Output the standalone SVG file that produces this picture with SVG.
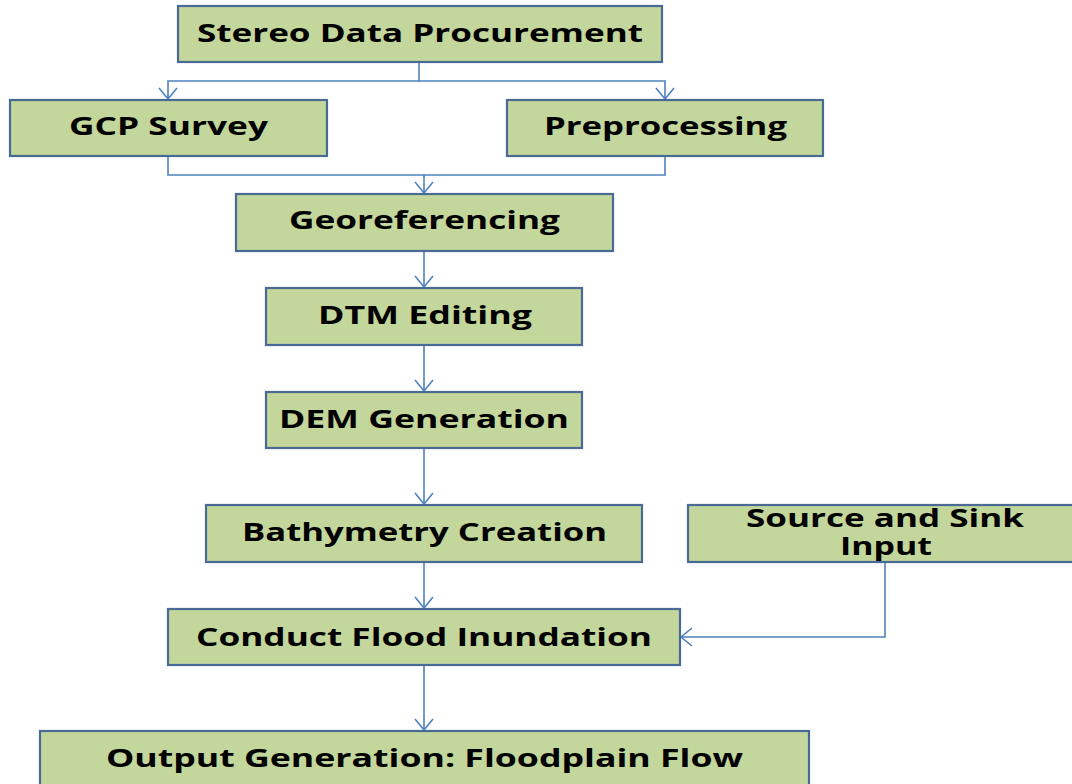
<svg xmlns="http://www.w3.org/2000/svg" width="1072" height="784" viewBox="0 0 1072 784">
  <style>
    .box { fill: #c3d69b; stroke: #4a6a96; stroke-width: 2.2; }
    .lbl { font-family: "Open Sans", "Liberation Sans", sans-serif; font-weight: 700; font-size: 25px; fill: #000; text-anchor: middle; }
    .conn { fill: none; stroke: #4f81bd; stroke-width: 1.6; }
  </style>
  <defs>
    <marker id="arrow" markerUnits="userSpaceOnUse" markerWidth="24" markerHeight="24" viewBox="-14 -12 16 24" refX="0" refY="0" orient="auto">
      <path d="M-11,-9 L0,0 L-11,9" fill="none" stroke="#4f81bd" stroke-width="1.6"/>
    </marker>
  </defs>
  <rect width="1072" height="784" fill="#ffffff"/>

  <!-- connectors -->
  <g id="connectors">
    <path class="conn" d="M419,62 V81 H168 V99" marker-end="url(#arrow)"/>
    <path class="conn" d="M419,81 H665 V99" marker-end="url(#arrow)"/>
    <path class="conn" d="M168,156 V175 H665 V156"/>
    <path class="conn" d="M424,175 V193" marker-end="url(#arrow)"/>
    <path class="conn" d="M424,251 V287" marker-end="url(#arrow)"/>
    <path class="conn" d="M424,345 V391" marker-end="url(#arrow)"/>
    <path class="conn" d="M424,448 V504" marker-end="url(#arrow)"/>
    <path class="conn" d="M424,562 V608" marker-end="url(#arrow)"/>
    <path class="conn" d="M885,562 V637 H681" marker-end="url(#arrow)"/>
    <path class="conn" d="M424,665 V730" marker-end="url(#arrow)"/>
  </g>

  <!-- nodes -->
  <g id="stereo">
    <rect class="box" x="178" y="6" width="484" height="56"/>
    <text class="lbl" x="420" y="42" textLength="446" lengthAdjust="spacingAndGlyphs">Stereo Data Procurement</text>
  </g>
  <g id="gcp">
    <rect class="box" x="10" y="100" width="317" height="56"/>
    <text class="lbl" x="168.5" y="135" textLength="199" lengthAdjust="spacingAndGlyphs">GCP Survey</text>
  </g>
  <g id="preproc">
    <rect class="box" x="507" y="100" width="316" height="56"/>
    <text class="lbl" x="665.5" y="135" textLength="243" lengthAdjust="spacingAndGlyphs">Preprocessing</text>
  </g>
  <g id="georef">
    <rect class="box" x="236" y="194" width="377" height="57"/>
    <text class="lbl" x="424.5" y="229" textLength="271" lengthAdjust="spacingAndGlyphs">Georeferencing</text>
  </g>
  <g id="dtm">
    <rect class="box" x="266" y="288" width="316" height="57"/>
    <text class="lbl" x="425" y="324" textLength="214" lengthAdjust="spacingAndGlyphs">DTM Editing</text>
  </g>
  <g id="dem">
    <rect class="box" x="266" y="392" width="316" height="56"/>
    <text class="lbl" x="424" y="428" textLength="290" lengthAdjust="spacingAndGlyphs">DEM Generation</text>
  </g>
  <g id="bathy">
    <rect class="box" x="206" y="505" width="436" height="57"/>
    <text class="lbl" x="424.5" y="541" textLength="365" lengthAdjust="spacingAndGlyphs">Bathymetry Creation</text>
  </g>
  <g id="source">
    <rect class="box" x="688" y="505" width="392" height="57"/>
    <text class="lbl" x="885" y="527" font-size="23" textLength="278" lengthAdjust="spacingAndGlyphs">Source and Sink</text>
    <text class="lbl" x="886" y="555" font-size="23" textLength="92" lengthAdjust="spacingAndGlyphs">Input</text>
  </g>
  <g id="flood">
    <rect class="box" x="168" y="609" width="512" height="56"/>
    <text class="lbl" x="424" y="646" textLength="456" lengthAdjust="spacingAndGlyphs">Conduct Flood Inundation</text>
  </g>
  <g id="output">
    <rect class="box" x="40" y="731" width="769" height="64"/>
    <text class="lbl" x="424.5" y="767" font-size="26" textLength="637" lengthAdjust="spacingAndGlyphs">Output Generation: Floodplain Flow</text>
  </g>
</svg>
